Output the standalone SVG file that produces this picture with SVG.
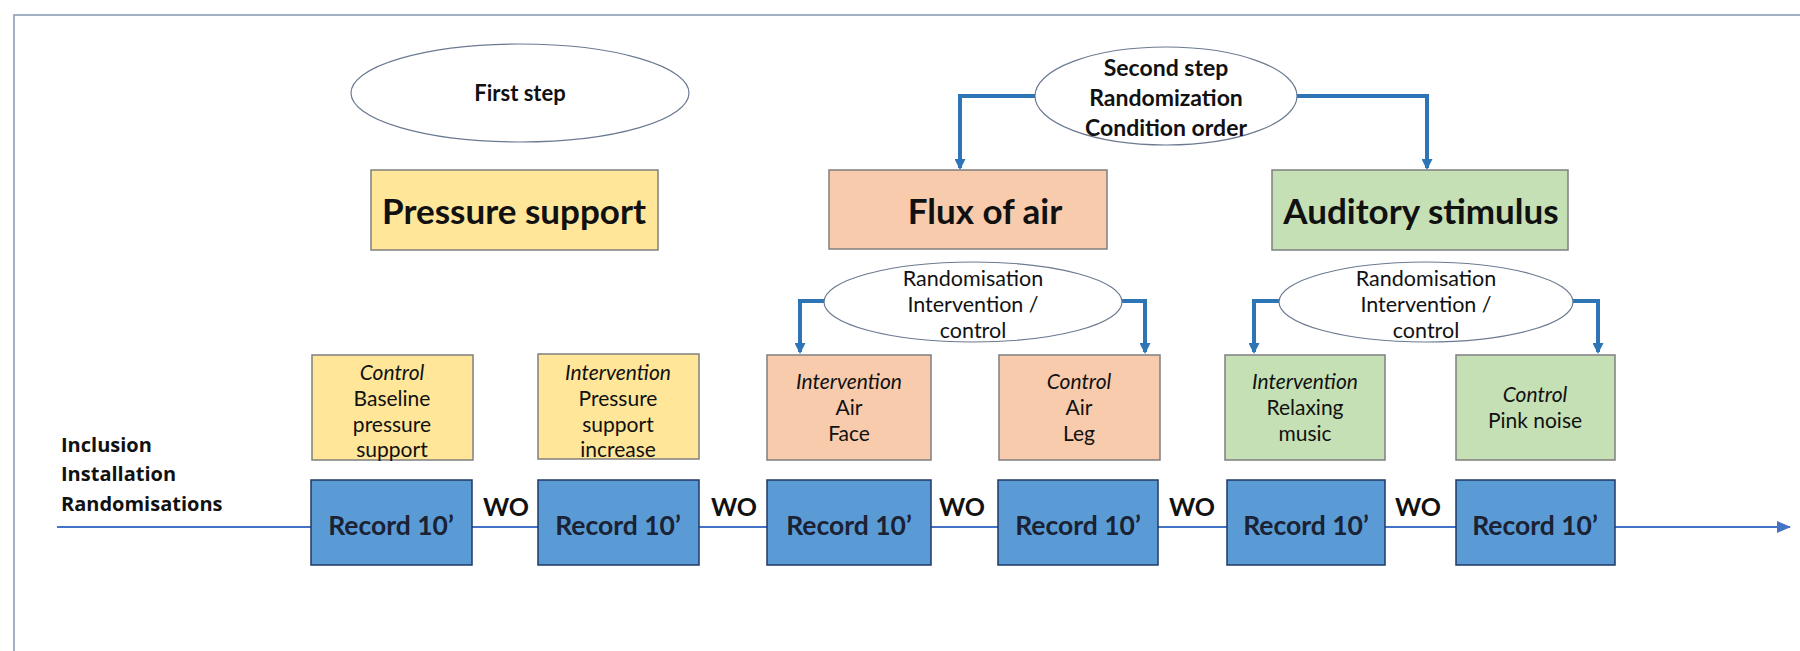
<svg xmlns="http://www.w3.org/2000/svg" width="1800" height="651" viewBox="0 0 1800 651">
<defs>
<style>
text{font-family:Lato,"Liberation Sans",sans-serif;fill:#111;text-anchor:middle;dominant-baseline:central}
.b{font-weight:bold}
.i{font-style:italic}
.ell{fill:#fff;stroke:#6b7a90;stroke-width:1.2}
.yel{fill:#FFE699;stroke:#7f7f7f;stroke-width:1.5}
.ora{fill:#F8CBAD;stroke:#7f7f7f;stroke-width:1.5}
.grn{fill:#C5E0B4;stroke:#7f7f7f;stroke-width:1.5}
.rec{fill:#5B9BD5;stroke:#1F3864;stroke-width:1.5}
.rt{font-weight:bold;font-size:26.5px;fill:#1a2233}
.wo{font-weight:bold;font-size:25px}
.cd{font-size:21px}
.rd{font-size:21.5px}
.t2{font-weight:bold;font-size:23px}
.big{font-weight:bold;font-size:35px}
.lab{font-family:"Open Sans","Liberation Sans",sans-serif;font-weight:bold;font-size:20px;text-anchor:start}
.conn{fill:none;stroke:#2E75B6;stroke-width:4}
</style>
<marker id="ah" markerWidth="11" markerHeight="11" refX="9" refY="5.5" orient="auto" markerUnits="userSpaceOnUse">
<path d="M0,0 L11,5.5 L0,11 z" fill="#2E75B6"/>
</marker>
<marker id="ah2" markerWidth="14" markerHeight="12" refX="13" refY="6" orient="auto" markerUnits="userSpaceOnUse">
<path d="M0,0 L14,6 L0,12 z" fill="#4472C4"/>
</marker>
</defs>
<rect x="0" y="0" width="1800" height="651" fill="#fff"/>
<rect x="14" y="15" width="1800" height="700" fill="none" stroke="#8497b0" stroke-width="1.5"/>

<g id="connectors">
<line x1="57" y1="527" x2="1790" y2="527" stroke="#4472C4" stroke-width="2" marker-end="url(#ah2)"/>
<path class="conn" d="M1036,96 H960 V168" marker-end="url(#ah)"/>
<path class="conn" d="M1296,96 H1427 V168" marker-end="url(#ah)"/>
<path class="conn" d="M825,301 H800 V352" marker-end="url(#ah)"/>
<path class="conn" d="M1122,301 H1145 V352" marker-end="url(#ah)"/>
<path class="conn" d="M1280,301 H1254 V352" marker-end="url(#ah)"/>
<path class="conn" d="M1572,301 H1598 V352" marker-end="url(#ah)"/>
</g>

<g id="first-step">
<ellipse class="ell" cx="520" cy="93" rx="169" ry="49"/>
<text x="520" y="92" class="b" font-size="22">First step</text>
</g>
<g id="pressure-support">
<rect class="yel" x="371" y="170" width="287" height="80"/>
<text x="514" y="210" class="big">Pressure support</text>
</g>
<g id="second-step">
<ellipse class="ell" cx="1166" cy="96" rx="131" ry="49"/>
<text x="1166" y="67" class="t2">Second step</text>
<text x="1166" y="97" class="t2">Randomization</text>
<text x="1166" y="127" class="t2">Condition order</text>
</g>
<g id="flux-of-air">
<rect class="ora" x="829" y="170" width="278" height="79"/>
<text x="985" y="210" class="big">Flux of air</text>
</g>
<g id="auditory-stimulus">
<rect class="grn" x="1272" y="170" width="296" height="80"/>
<text x="1421" y="210" class="big">Auditory stimulus</text>
</g>
<g id="rand-air">
<ellipse class="ell" cx="973" cy="302" rx="149" ry="40"/>
<text x="973" y="278" class="rd">Randomisation</text>
<text x="973" y="304" class="rd">Intervention /</text>
<text x="973" y="330" class="rd">control</text>
</g>
<g id="rand-audio">
<ellipse class="ell" cx="1426" cy="302" rx="147" ry="40"/>
<text x="1426" y="278" class="rd">Randomisation</text>
<text x="1426" y="304" class="rd">Intervention /</text>
<text x="1426" y="330" class="rd">control</text>
</g>

<g id="cond1">
<rect class="yel" x="312" y="355" width="161" height="105"/>
<text x="392" y="371" class="cd i">Control</text>
<text x="392" y="397" class="cd">Baseline</text>
<text x="392" y="423" class="cd">pressure</text>
<text x="392" y="448" class="cd">support</text>
</g>
<g id="cond2">
<rect class="yel" x="538" y="354" width="161" height="105"/>
<text x="618" y="371" class="cd i">Intervention</text>
<text x="618" y="397" class="cd">Pressure</text>
<text x="618" y="423" class="cd">support</text>
<text x="618" y="448" class="cd">increase</text>
</g>
<g id="cond3">
<rect class="ora" x="767" y="355" width="164" height="105"/>
<text x="849" y="380" class="cd i">Intervention</text>
<text x="849" y="406" class="cd">Air</text>
<text x="849" y="432" class="cd">Face</text>
</g>
<g id="cond4">
<rect class="ora" x="999" y="355" width="161" height="105"/>
<text x="1079" y="380" class="cd i">Control</text>
<text x="1079" y="406" class="cd">Air</text>
<text x="1079" y="432" class="cd">Leg</text>
</g>
<g id="cond5">
<rect class="grn" x="1225" y="355" width="160" height="105"/>
<text x="1305" y="380" class="cd i">Intervention</text>
<text x="1305" y="406" class="cd">Relaxing</text>
<text x="1305" y="432" class="cd">music</text>
</g>
<g id="cond6">
<rect class="grn" x="1456" y="355" width="159" height="105"/>
<text x="1535" y="393" class="cd i">Control</text>
<text x="1535" y="419" class="cd">Pink noise</text>
</g>

<g id="start-label">
<text x="61" y="444" class="lab">Inclusion</text>
<text x="61" y="473" class="lab">Installation</text>
<text x="61" y="503" class="lab">Randomisations</text>
</g>

<g id="rec1"><rect class="rec" x="311" y="480" width="161" height="85"/><text x="391" y="525" class="rt">Record 10’</text></g>
<g id="rec2"><rect class="rec" x="538" y="480" width="161" height="85"/><text x="618" y="525" class="rt">Record 10’</text></g>
<g id="rec3"><rect class="rec" x="767" y="480" width="164" height="85"/><text x="849" y="525" class="rt">Record 10’</text></g>
<g id="rec4"><rect class="rec" x="998" y="480" width="160" height="85"/><text x="1078" y="525" class="rt">Record 10’</text></g>
<g id="rec5"><rect class="rec" x="1227" y="480" width="158" height="85"/><text x="1306" y="525" class="rt">Record 10’</text></g>
<g id="rec6"><rect class="rec" x="1456" y="480" width="159" height="85"/><text x="1535" y="525" class="rt">Record 10’</text></g>

<g id="wo-labels">
<text x="506" y="506" class="wo">WO</text>
<text x="734" y="506" class="wo">WO</text>
<text x="962" y="506" class="wo">WO</text>
<text x="1192" y="506" class="wo">WO</text>
<text x="1418" y="506" class="wo">WO</text>
</g>
</svg>
